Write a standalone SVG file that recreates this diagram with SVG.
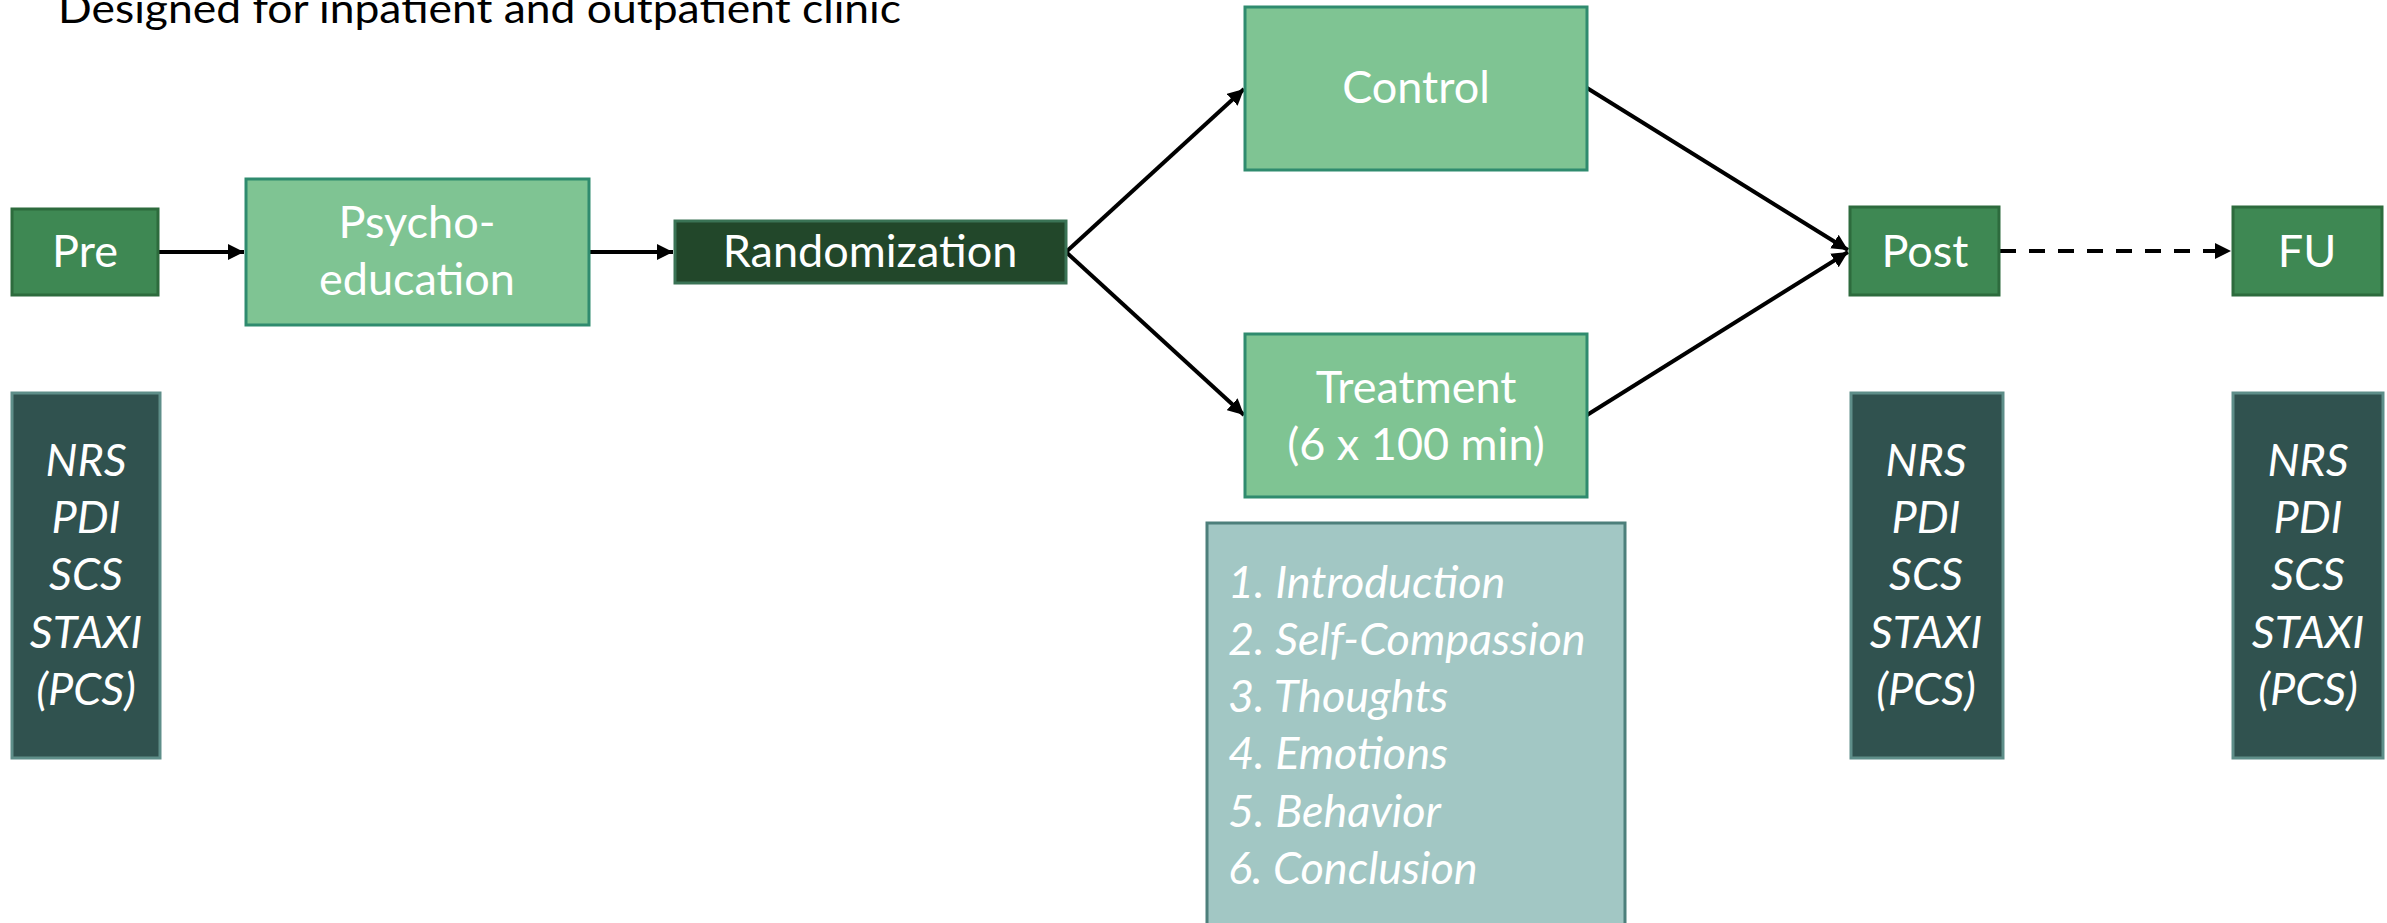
<svg xmlns="http://www.w3.org/2000/svg" width="2387" height="923" viewBox="0 0 2387 923">
<style>
.t{font-family:Lato,"Open Sans","Liberation Sans",sans-serif;fill:#fff;text-anchor:middle}
.i{font-style:italic}
.mid{fill:#3E8853;stroke:#2D6B3D;stroke-width:3}
.light{fill:#7FC493;stroke:#2F8B6E;stroke-width:3}
.dark{fill:#22472A;stroke:#3A7355;stroke-width:3}
.meas{fill:#30524F;stroke:#5E8E89;stroke-width:3}
.sess{fill:#A2C7C4;stroke:#4D7F7B;stroke-width:3}
.c{stroke:#000;stroke-width:4;fill:none}
</style>
<defs>
<marker id="ah" viewBox="0 0 10 10" refX="10" refY="5" markerWidth="4" markerHeight="4" markerUnits="strokeWidth" orient="auto">
<path d="M0,0 L10,5 L0,10 z" fill="#000"/>
</marker>
</defs>
<rect width="2387" height="923" fill="#fff"/>
<text x="58" y="23" font-family="Lato,'Open Sans','Liberation Sans',sans-serif" font-size="41" fill="#000" textLength="843" lengthAdjust="spacingAndGlyphs">Designed for inpatient and outpatient clinic</text>

<g id="connectors">
<line class="c" x1="158" y1="252" x2="244" y2="252" marker-end="url(#ah)"/>
<line class="c" x1="590" y1="252" x2="673" y2="252" marker-end="url(#ah)"/>
<line class="c" x1="1066" y1="252" x2="1244" y2="89" marker-end="url(#ah)"/>
<line class="c" x1="1066" y1="252" x2="1244" y2="415" marker-end="url(#ah)"/>
<line class="c" x1="1587" y1="88" x2="1848" y2="250" marker-end="url(#ah)"/>
<line class="c" x1="1587" y1="415" x2="1848" y2="252" marker-end="url(#ah)"/>
<line class="c" x1="2000" y1="251" x2="2231" y2="251" stroke-dasharray="16,13" marker-end="url(#ah)"/>
</g>

<g id="pre">
<rect class="mid" x="12" y="209" width="146" height="86"/>
<text class="t" x="85" y="267" font-size="45">Pre</text>
</g>
<g id="psychoeducation">
<rect class="light" x="246" y="179" width="343" height="146"/>
<text class="t" x="417" y="238" font-size="45">Psycho-</text>
<text class="t" x="417" y="295" font-size="45">education</text>
</g>
<g id="randomization">
<rect class="dark" x="675" y="221" width="391" height="62"/>
<text class="t" x="870" y="267" font-size="45">Randomization</text>
</g>
<g id="control">
<rect class="light" x="1245" y="7" width="342" height="163"/>
<text class="t" x="1416" y="103" font-size="45">Control</text>
</g>
<g id="treatment">
<rect class="light" x="1245" y="334" width="342" height="163"/>
<text class="t" x="1416" y="403" font-size="45">Treatment</text>
<text class="t" x="1416" y="460" font-size="45">(6 x 100 min)</text>
</g>
<g id="post">
<rect class="mid" x="1850" y="207" width="149" height="88"/>
<text class="t" x="1925" y="267" font-size="45">Post</text>
</g>
<g id="fu">
<rect class="mid" x="2233" y="207" width="149" height="88"/>
<text class="t" x="2307" y="267" font-size="45">FU</text>
</g>

<g id="pre-measures">
<rect class="meas" x="12" y="393" width="148" height="365"/>
<text class="t i" font-size="45"><tspan x="86" y="476">NRS</tspan><tspan x="86" y="533">PDI</tspan><tspan x="86" y="590">SCS</tspan><tspan x="86" y="648">STAXI</tspan><tspan x="86" y="705">(PCS)</tspan></text>
</g>
<g id="post-measures">
<rect class="meas" x="1851" y="393" width="152" height="365"/>
<text class="t i" font-size="45"><tspan x="1926" y="476">NRS</tspan><tspan x="1926" y="533">PDI</tspan><tspan x="1926" y="590">SCS</tspan><tspan x="1926" y="648">STAXI</tspan><tspan x="1926" y="705">(PCS)</tspan></text>
</g>
<g id="fu-measures">
<rect class="meas" x="2233" y="393" width="150" height="365"/>
<text class="t i" font-size="45"><tspan x="2308" y="476">NRS</tspan><tspan x="2308" y="533">PDI</tspan><tspan x="2308" y="590">SCS</tspan><tspan x="2308" y="648">STAXI</tspan><tspan x="2308" y="705">(PCS)</tspan></text>
</g>

<g id="sessions">
<rect class="sess" x="1207" y="523" width="418" height="420"/>
<text class="t i" font-size="45" style="text-anchor:start"><tspan x="1228" y="598">1. Introduction</tspan><tspan x="1228" y="655">2. Self-Compassion</tspan><tspan x="1228" y="712">3. Thoughts</tspan><tspan x="1228" y="769">4. Emotions</tspan><tspan x="1228" y="827">5. Behavior</tspan><tspan x="1228" y="884">6. Conclusion</tspan></text>
</g>
</svg>
